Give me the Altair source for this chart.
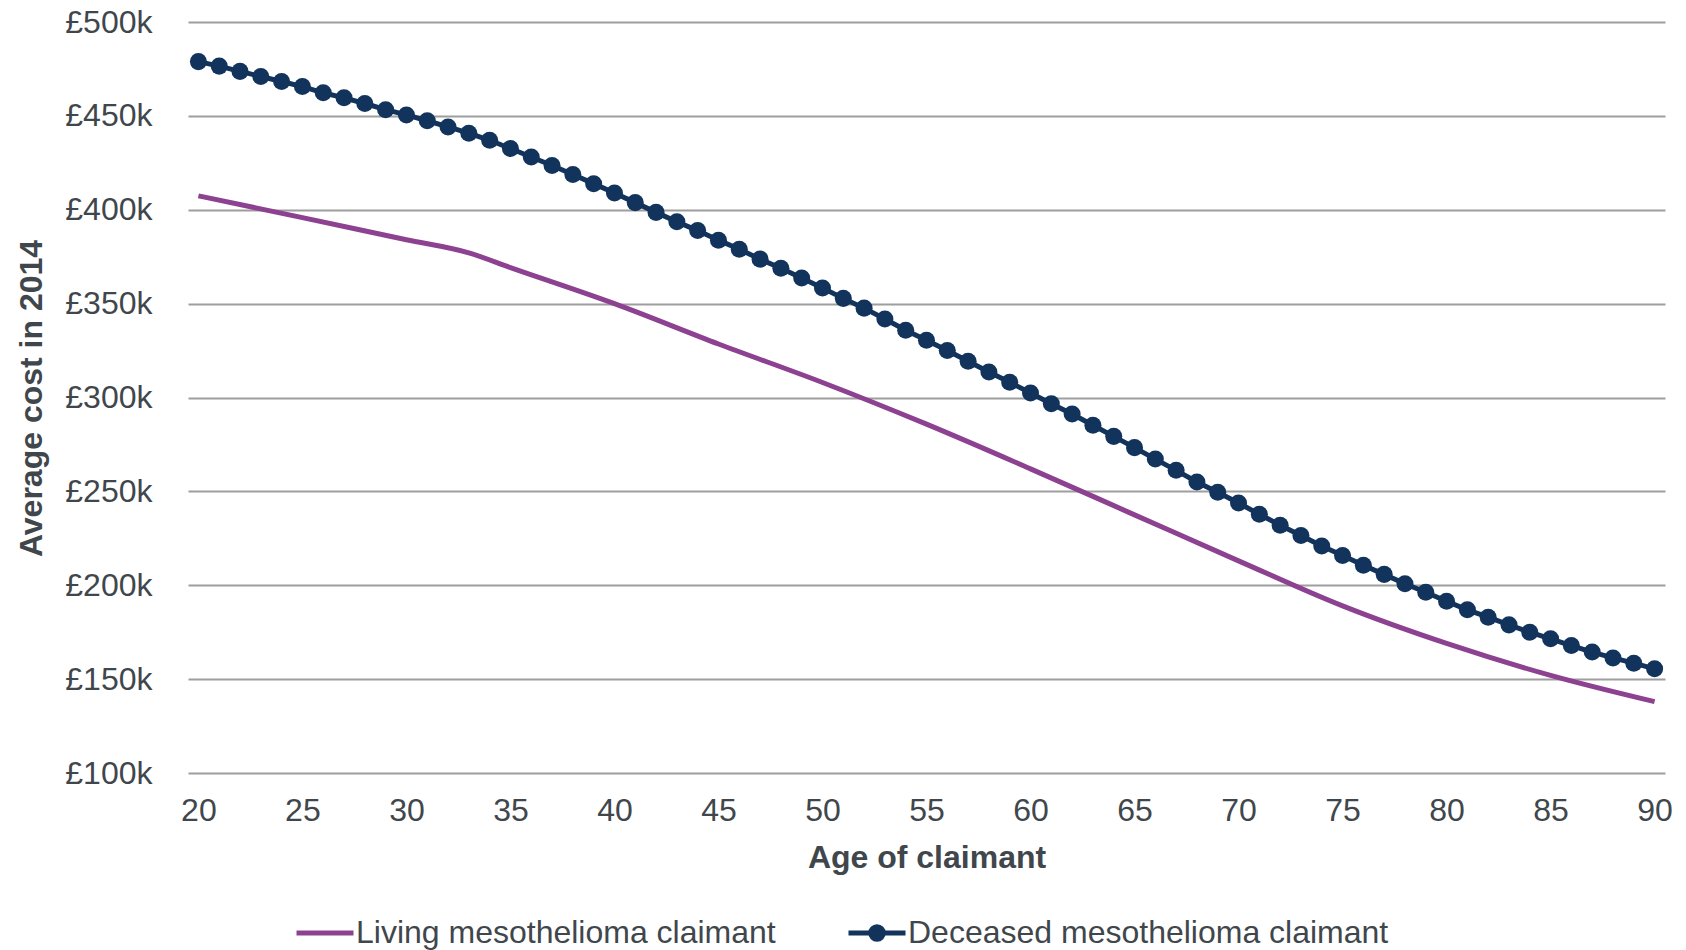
import altair as alt
import pandas as pd

# ---- data (values in £ thousands) ----
living_label = "Living mesothelioma claimant"
deceased_label = "Deceased mesothelioma claimant"

ages_living = [20, 25, 30, 33, 35, 40, 45, 50, 55, 60, 65, 70, 75, 80, 85, 90]
living_k = [407.4, 395.8, 384.0, 377.0, 369.2, 350.0, 328.5, 308.0, 285.8, 262.0,
            237.5, 213.0, 189.0, 169.0, 152.0, 138.0]

ages_deceased = list(range(20, 91))
deceased_k = [478.9, 476.5, 473.7, 471.0, 468.3, 465.6, 462.3, 459.6, 456.6, 453.3,
              450.5, 447.4, 444.1, 440.8, 437.0, 432.6, 428.1, 423.6, 418.8, 413.9,
              408.9, 403.8, 398.6, 393.6, 388.9, 383.8, 379.0, 373.7, 368.8, 363.6,
              358.3, 352.8, 347.6, 341.8, 335.8, 330.5, 325.0, 319.3, 313.6, 308.1,
              302.4, 296.7, 291.2, 285.2, 279.3, 273.3, 267.2, 261.2, 255.0, 249.5,
              243.8, 237.8, 232.0, 226.5, 220.9, 215.9, 210.6, 205.8, 200.8, 196.3,
              191.5, 186.9, 183.0, 178.9, 175.0, 171.5, 167.9, 164.4, 161.3, 158.5,
              155.5]

x_ticks = list(range(20, 91, 5))
y_ticks = list(range(100, 501, 50))

# ---- styling ----
FONT = "Liberation Sans"
TEXT = "#3F474C"
PURPLE = "#8C4291"
NAVY = "#12335B"
GRID = "#9E9E9E"
FS = 32

living_df = pd.DataFrame({"age": ages_living, "cost": living_k, "series": living_label})
deceased_df = pd.DataFrame({"age": ages_deceased, "cost": deceased_k, "series": deceased_label})

x_enc = alt.X(
    "age:Q",
    scale=alt.Scale(domain=[19.5, 90.5], nice=False, zero=False),
    axis=alt.Axis(
        values=x_ticks, title="Age of claimant", grid=False, domain=False,
        ticks=False, tickSize=0, labelPadding=47, labelBaseline="alphabetic",
        labelFontSize=FS, labelColor=TEXT, labelFont=FONT,
        titleFontSize=FS, titleFont=FONT, titleColor=TEXT, titleFontWeight="bold",
        titleBaseline="alphabetic", titleY=94, labelFlush=False,
    ),
)
y_enc = alt.Y(
    "cost:Q",
    scale=alt.Scale(domain=[100, 500], nice=False, zero=False),
    axis=alt.Axis(
        values=y_ticks, title="Average cost in 2014", grid=True, gridColor=GRID,
        gridWidth=2, domain=False, ticks=False, tickSize=0, labelPadding=36,
        labelBaseline="middle", labelExpr="'£' + datum.value + 'k'",
        labelFontSize=FS, labelColor=TEXT, labelFont=FONT,
        titleFontSize=FS, titleFont=FONT, titleColor=TEXT, titleFontWeight="bold",
        titleAngle=-90, titleAlign="center", titleBaseline="alphabetic",
        titleX=-147, titleY=376,
    ),
)

living = alt.Chart(living_df).mark_line(strokeWidth=5, interpolate="monotone").encode(
    x=x_enc, y=y_enc,
    color=alt.Color(
        "series:N",
        scale=alt.Scale(domain=[living_label], range=[PURPLE]),
        legend=alt.Legend(
            orient="none", legendX=106, legendY=880, title=None, padding=0,
            symbolType="stroke", symbolSize=3249, symbolStrokeWidth=5,
            labelFontSize=FS, labelFont=FONT, labelColor=TEXT, labelOffset=0,
            labelLimit=0,
        ),
    ),
)

deceased = alt.Chart(deceased_df).mark_line(
    strokeWidth=5, point=alt.OverlayMarkDef(filled=True, size=290, opacity=1)
).encode(
    x=x_enc, y=y_enc,
    color=alt.Color(
        "series:N",
        scale=alt.Scale(domain=[deceased_label], range=[NAVY]),
        legend=alt.Legend(
            orient="none", legendX=658, legendY=880, title=None, padding=0,
            symbolType="M-1,0H1M0.22,0A0.22,0.22,0,1,1,-0.22,0A0.22,0.22,0,1,1,0.22,0Z",
            symbolSize=3249, symbolStrokeWidth=5, symbolFillColor=NAVY,
            labelFontSize=FS, labelFont=FONT, labelColor=TEXT, labelOffset=0,
            labelLimit=0,
        ),
    ),
)

chart = (
    alt.layer(living, deceased)
    .resolve_scale(color="independent")
    .properties(
        width=1477, height=751,
        autosize=alt.AutoSizeParams(type="none"),
        padding={"left": 180, "top": 14, "right": 13, "bottom": 180},
        background="white",
    )
    .configure_view(stroke=None)
)

chart.save("out.html", embed_options={"renderer": "svg", "actions": False})
